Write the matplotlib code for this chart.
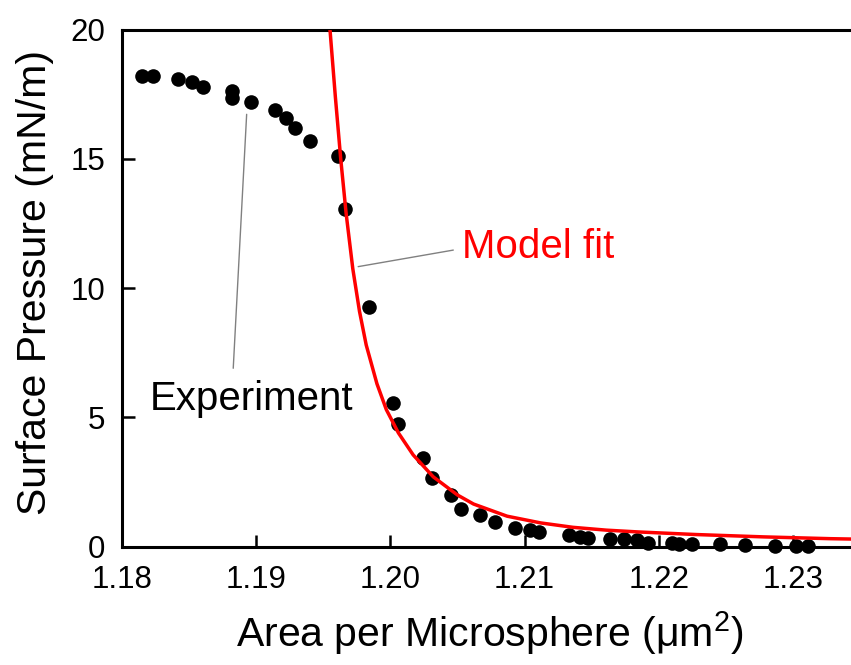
import matplotlib
matplotlib.use("Agg")
import matplotlib.pyplot as plt

plt.rcParams['font.family'] = ['Liberation Sans', 'DejaVu Sans']

# Experimental data (area per microsphere in um^2, surface pressure in mN/m)
exp_area = [1.1815, 1.1823, 1.1842, 1.1852, 1.1860, 1.1882, 1.1882, 1.1896,
            1.1914, 1.1922, 1.1929, 1.1940, 1.1961, 1.1966, 1.1984, 1.2002,
            1.2006, 1.2024, 1.2031, 1.2045, 1.2053, 1.2067, 1.2078, 1.2093,
            1.2104, 1.2111, 1.2133, 1.2141, 1.2147, 1.2164, 1.2174, 1.2184,
            1.2192, 1.2210, 1.2215, 1.2225, 1.2246, 1.2264, 1.2287, 1.2302,
            1.2311]
exp_pressure = [18.20, 18.20, 18.07, 17.98, 17.76, 17.62, 17.34, 17.18,
                16.89, 16.59, 16.18, 15.69, 15.11, 13.06, 9.26, 5.54,
                4.73, 3.44, 2.67, 2.00, 1.45, 1.23, 0.97, 0.74,
                0.65, 0.56, 0.45, 0.36, 0.32, 0.28, 0.28, 0.26,
                0.16, 0.13, 0.09, 0.09, 0.09, 0.07, 0.04, 0.02,
                0.02]

# Model fit curve
fit_area = [1.1955, 1.1959, 1.1963, 1.1967, 1.1972, 1.1977, 1.1982,
            1.1990, 1.1997, 1.2006, 1.2017, 1.2032, 1.2050, 1.2062,
            1.2087, 1.2112, 1.2136, 1.2161, 1.2185, 1.2228, 1.2278,
            1.2328, 1.2350]
fit_pressure = [20.0, 17.4, 15.0, 12.9, 10.75, 9.1, 7.8,
                6.3, 5.3, 4.4, 3.55, 2.70, 2.00, 1.65,
                1.18, 0.92, 0.75, 0.64, 0.57, 0.47, 0.38,
                0.31, 0.29]

x_ticks = [1.18, 1.19, 1.20, 1.21, 1.22, 1.23]
x_tick_labels = ["1.18", "1.19", "1.20", "1.21", "1.22", "1.23"]
y_ticks = [0, 5, 10, 15, 20]

fig = plt.figure(figsize=(8.51, 6.65), dpi=100)
ax = fig.add_axes([0.14336, 0.17789, 0.86722, 0.77774])

ax.plot(exp_area, exp_pressure, 'o', color='black', markersize=10.5,
        markeredgewidth=0, zorder=2, clip_on=False)
ax.plot(fit_area, fit_pressure, '-', color='#ff0000', linewidth=2.5,
        zorder=3, solid_joinstyle='round')

ax.set_xlim(1.18, 1.235)
ax.set_ylim(0, 20)
ax.set_xticks(x_ticks)
ax.set_xticklabels(x_tick_labels)
ax.set_yticks(y_ticks)

for side in ['left', 'bottom', 'top', 'right']:
    ax.spines[side].set_linewidth(2.2)
ax.spines['right'].set_visible(False)

ax.tick_params(axis='both', direction='in', length=9, width=1.8,
               labelsize=22.5, colors='black')
ax.tick_params(axis='x', pad=13)
ax.tick_params(axis='y', pad=12)

ax.set_xlabel(r"Area per Microsphere ($\mathregular{\mu m^2}$)", fontsize=29.5)
ax.set_ylabel("Surface Pressure (mN/m)", fontsize=29.5)
ax.xaxis.set_label_coords(0.4986, -0.12)
ax.yaxis.set_label_coords(-0.092, 0.51)

# Annotations
ax.annotate("", xy=(1.19760, 10.83), xytext=(1.20469, 11.47),
            arrowprops=dict(arrowstyle='-', color='#808080', lw=1.0,
                            shrinkA=0, shrinkB=0))
ax.text(1.20531, 11.18, "Model fit", color='#ff0000', fontsize=29,
        ha='left', va='baseline')

ax.annotate("", xy=(1.18929, 16.72), xytext=(1.18829, 6.90),
            arrowprops=dict(arrowstyle='-', color='#808080', lw=1.0,
                            shrinkA=0, shrinkB=0))
ax.text(1.18209, 5.29, "Experiment", color='black', fontsize=29,
        ha='left', va='baseline')

fig.savefig("out.png", dpi=100)
